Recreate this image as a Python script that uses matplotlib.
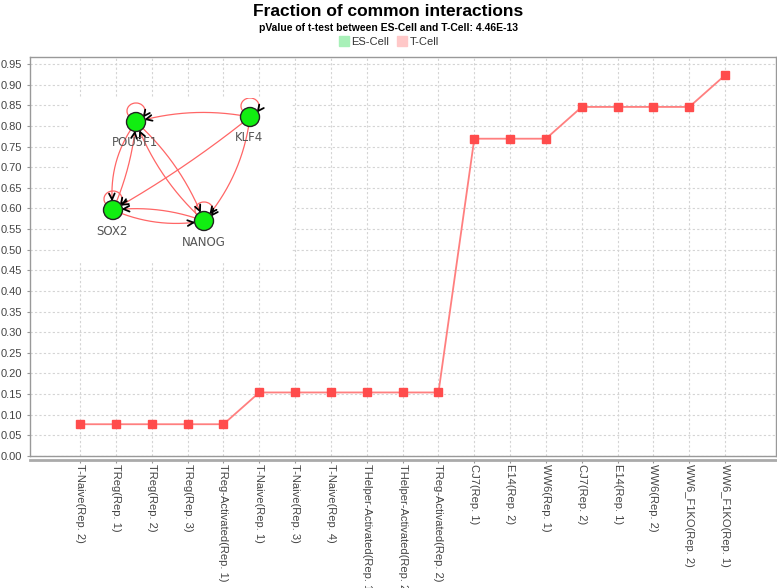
import numpy as np
import matplotlib
matplotlib.use("Agg")
import matplotlib.pyplot as plt
from matplotlib.lines import Line2D
from matplotlib.patches import Circle, Arc

plt.rcParams['font.family'] = ['Liberation Sans', 'DejaVu Sans']

# ---------------- data ----------------
categories = ['T-Naive(Rep. 2)', 'TReg(Rep. 1)', 'TReg(Rep. 2)', 'TReg(Rep. 3)',
              'TReg-Activated(Rep. 1)', 'T-Naive(Rep. 1)', 'T-Naive(Rep. 3)',
              'T-Naive(Rep. 4)', 'THelper-Activated(Rep. 1)',
              'THelper-Activated(Rep. 2)', 'TReg-Activated(Rep. 2)',
              'CJ7(Rep. 1)', 'E14(Rep. 2)', 'WW6(Rep. 1)', 'CJ7(Rep. 2)',
              'E14(Rep. 1)', 'WW6(Rep. 2)', 'WW6_F1KO(Rep. 2)', 'WW6_F1KO(Rep. 1)']
values = [0.077, 0.077, 0.077, 0.077, 0.077,
          0.154, 0.154, 0.154, 0.154, 0.154, 0.154,
          0.769, 0.769, 0.769,
          0.846, 0.846, 0.846, 0.846,
          0.923]
y_ticks = [round(0.05 * i, 2) for i in range(20)]
legend_labels = ['ES-Cell', 'T-Cell']

title = 'Fraction of common interactions'
subtitle = 'pValue of t-test between ES-Cell and T-Cell: 4.46E-13'

# network inset
node_names = ['POU5F1', 'KLF4', 'SOX2', 'NANOG']
edges = [('KLF4', 'POU5F1'), ('KLF4', 'SOX2'), ('KLF4', 'NANOG'),
         ('POU5F1', 'SOX2'), ('SOX2', 'POU5F1'),
         ('POU5F1', 'NANOG'), ('NANOG', 'POU5F1'),
         ('SOX2', 'NANOG'), ('NANOG', 'SOX2')]
self_loops = ['POU5F1', 'KLF4', 'SOX2', 'NANOG']

# ---------------- figure ----------------
W, H = 777, 588
fig = plt.figure(figsize=(W / 100, H / 100), dpi=100)
fig.patch.set_facecolor('white')

L, R, T, B = 30, 776, 57, 456
ax = fig.add_axes([L / W, 1 - B / H, (R - L) / W, (B - T) / H])
x = np.arange(len(categories))
ax.plot(x, values, color='#ff7f7f', lw=1.3, marker='s', markersize=6,
        markerfacecolor='#ff4c4c', markeredgecolor='#ff4c4c', zorder=3)

ax.set_xlim(-1.4, len(categories) - 1 + 1.42)
ax.set_ylim(0, 0.967)
ax.set_yticks(y_ticks)
ax.set_yticklabels([f'{v:.2f}' for v in y_ticks])
ax.set_xticks(x)
ax.set_xticklabels(categories)
ax.grid(True, color='#d4d4d4', linestyle=(0, (2, 2)), lw=0.8)
ax.set_axisbelow(True)
for s in ax.spines.values():
    s.set_color('#999999')
    s.set_linewidth(1.0)
ax.spines['bottom'].set_position(('outward', 3))
ax.spines['bottom'].set_linewidth(2.0)
ax.spines['bottom'].set_color('#aaaaaa')
ax.plot([0, 1], [0, 0], transform=ax.transAxes, color='#999999', lw=1.0,
        clip_on=False, zorder=4)
ax.tick_params(axis='both', colors='#999999', labelcolor='#444444',
               labelsize=8, length=2, width=0.8)
ax.tick_params(axis='y', pad=4)
ax.tick_params(axis='x', pad=1)
plt.setp(ax.get_xticklabels(), rotation=270, ha='center', va='top',
         rotation_mode='default')

fig.text(0.5, 1 - 12 / H, title, ha='center', va='center', fontsize=12.5,
         fontweight='bold')
fig.text(0.5, 1 - 28 / H, subtitle, ha='center', va='center', fontsize=7.5,
         fontweight='bold')
handles = [Line2D([], [], ls='', marker='s', markersize=7, color='#a8f0b8'),
           Line2D([], [], ls='', marker='s', markersize=7, color='#ffc8c8')]
fig.legend(handles, legend_labels, loc='center', bbox_to_anchor=(0.5, 1 - 42 / H),
           ncol=2, frameon=False, fontsize=8, handletextpad=0.2,
           columnspacing=0.6, handlelength=1.0, labelcolor='#333333')

# ---------------- network inset ----------------
ix0, ix1, iy0, iy1 = 68, 292, 98, 262
iax = fig.add_axes([ix0 / W, 1 - iy1 / H, (ix1 - ix0) / W, (iy1 - iy0) / H])
iax.set_xlim(ix0, ix1)
iax.set_ylim(iy1, iy0)
iax.set_facecolor('white')
iax.axis('off')
iax.add_patch(plt.Rectangle((ix0, iy0), ix1 - ix0, iy1 - iy0, color='white',
                            zorder=0))

pos = {'POU5F1': (136, 122), 'KLF4': (250, 117), 'SOX2': (113, 210),
       'NANOG': (204, 221)}
label_pos = {'POU5F1': (135, 143), 'KLF4': (249, 138), 'SOX2': (112, 232),
             'NANOG': (204, 243)}
edge_rad = {('KLF4', 'POU5F1'): -0.12, ('KLF4', 'SOX2'): 0.04,
            ('KLF4', 'NANOG'): 0.15,
            ('POU5F1', 'SOX2'): -0.2, ('SOX2', 'POU5F1'): -0.08,
            ('POU5F1', 'NANOG'): 0.12, ('NANOG', 'POU5F1'): 0.12,
            ('SOX2', 'NANOG'): -0.15, ('NANOG', 'SOX2'): -0.12}
r = 9.5
edge_color = '#ff6666'


def head(tip, d, color='black'):
    d = d / np.hypot(*d)
    ln = 6.5
    for ang in (0.45, -0.45):
        c, s = np.cos(ang), np.sin(ang)
        v = np.array([d[0] * c - d[1] * s, d[0] * s + d[1] * c])
        p = tip - v * ln
        iax.plot([tip[0], p[0]], [tip[1], p[1]], color=color, lw=1.3,
                 solid_capstyle='round', zorder=5)


for a, b in edges:
    p0 = np.array(pos[a], float)
    p2 = np.array(pos[b], float)
    d = p2 - p0
    rad = edge_rad[(a, b)]
    mid = (p0 + p2) / 2
    ctrl = mid + rad * np.array([d[1], -d[0]])
    t = np.linspace(0, 1, 400)[:, None]
    pts = (1 - t) ** 2 * p0 + 2 * (1 - t) * t * ctrl + t ** 2 * p2
    keep = (np.hypot(*(pts - p0).T) > r) & (np.hypot(*(pts - p2).T) > r + 1)
    pts = pts[keep]
    iax.plot(pts[:, 0], pts[:, 1], color=edge_color, lw=0.9, zorder=2)
    head(pts[-1], pts[-1] - pts[-8])

for n in self_loops:
    cx, cy = pos[n]
    iax.add_patch(Arc((cx, cy - 11), 18, 16, theta1=0, theta2=360,
                      color=edge_color, lw=0.9, zorder=2))
    tip = np.array([cx + 8, cy - 6])
    head(tip, np.array([-0.6, 0.8]))

for n in node_names:
    iax.add_patch(Circle(pos[n], r, facecolor='#11ee11', edgecolor='#222222',
                         lw=1.0, zorder=6))
    iax.text(*label_pos[n], n, ha='center', va='center', fontsize=8.5,
             color='#555555', family=['DejaVu Sans'], zorder=7)

fig.savefig('out.png', dpi=100, facecolor='white')
